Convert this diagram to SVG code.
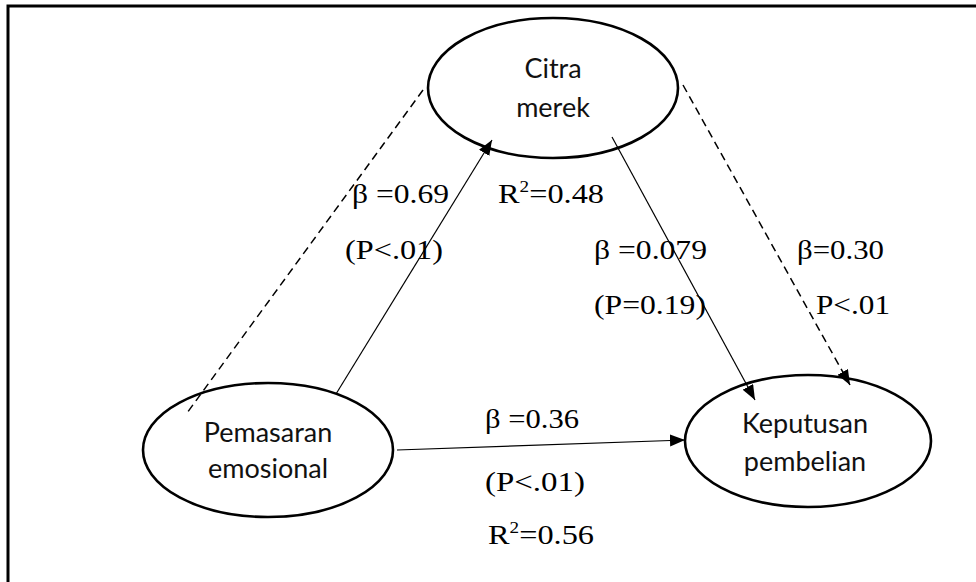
<svg xmlns="http://www.w3.org/2000/svg" width="976" height="582" viewBox="0 0 976 582">
<style>
.node{fill:#fff;stroke:#000;stroke-width:2.6}
.nt{font-family:Lato,"Noto Sans",sans-serif;font-size:27px;fill:#111;text-anchor:middle}
.lb{font-family:"Liberation Serif","Times New Roman",serif;font-size:27px;fill:#000}
.sup{font-size:16px}
.c{fill:none;stroke:#000;stroke-width:1.2}
.d{fill:none;stroke:#000;stroke-width:1.5;stroke-dasharray:8 5}
</style>
<defs>
<marker id="ah" markerUnits="userSpaceOnUse" markerWidth="16" markerHeight="12" refX="15" refY="6" orient="auto">
<path d="M0,0 L15,6 L0,12 Z" fill="#000"/>
</marker>
</defs>
<rect x="0" y="0" width="976" height="582" fill="#fff"/>
<rect x="8" y="6" width="1000" height="620" fill="none" stroke="#000" stroke-width="3"/>
<g id="citra">
<ellipse class="node" cx="553" cy="88" rx="125" ry="70"/>
<text class="nt" x="553" y="78">Citra</text>
<text class="nt" x="553" y="117">merek</text>
</g>
<g id="pemasaran">
<ellipse class="node" cx="268" cy="450" rx="125" ry="67"/>
<text class="nt" x="268" y="442">Pemasaran</text>
<text class="nt" x="268" y="478">emosional</text>
</g>
<g id="keputusan">
<ellipse class="node" cx="808" cy="441" rx="123" ry="66"/>
<text class="nt" x="805" y="433">Keputusan</text>
<text class="nt" x="805" y="471">pembelian</text>
</g>
<g id="connectors">
<line class="c" x1="336" y1="394" x2="492" y2="140" marker-end="url(#ah)"/>
<line class="c" x1="612" y1="137" x2="755" y2="400" marker-end="url(#ah)"/>
<line class="d" x1="683" y1="85" x2="850" y2="385" marker-end="url(#ah)"/>
<line class="d" x1="423" y1="90" x2="187" y2="413"/>
<line class="c" x1="397" y1="450" x2="685" y2="440" marker-end="url(#ah)"/>
</g>
<g id="labels">
<text class="lb" x="352" y="203" textLength="97" lengthAdjust="spacingAndGlyphs">β =0.69</text>
<text class="lb" x="498" y="203" textLength="106" lengthAdjust="spacingAndGlyphs">R<tspan class="sup" dy="-11">2</tspan><tspan dy="11">=0.48</tspan></text>
<text class="lb" x="345" y="259" textLength="98" lengthAdjust="spacingAndGlyphs">(P&lt;.01)</text>
<text class="lb" x="594" y="259" textLength="113" lengthAdjust="spacingAndGlyphs">β =0.079</text>
<text class="lb" x="797" y="259" textLength="87" lengthAdjust="spacingAndGlyphs">β=0.30</text>
<text class="lb" x="594" y="314" textLength="112" lengthAdjust="spacingAndGlyphs">(P=0.19)</text>
<text class="lb" x="816" y="314" textLength="74" lengthAdjust="spacingAndGlyphs">P&lt;.01</text>
<text class="lb" x="485" y="428" textLength="94" lengthAdjust="spacingAndGlyphs">β =0.36</text>
<text class="lb" x="485" y="491" textLength="100" lengthAdjust="spacingAndGlyphs">(P&lt;.01)</text>
<text class="lb" x="488" y="544" textLength="106" lengthAdjust="spacingAndGlyphs">R<tspan class="sup" dy="-11">2</tspan><tspan dy="11">=0.56</tspan></text>
</g>
</svg>
